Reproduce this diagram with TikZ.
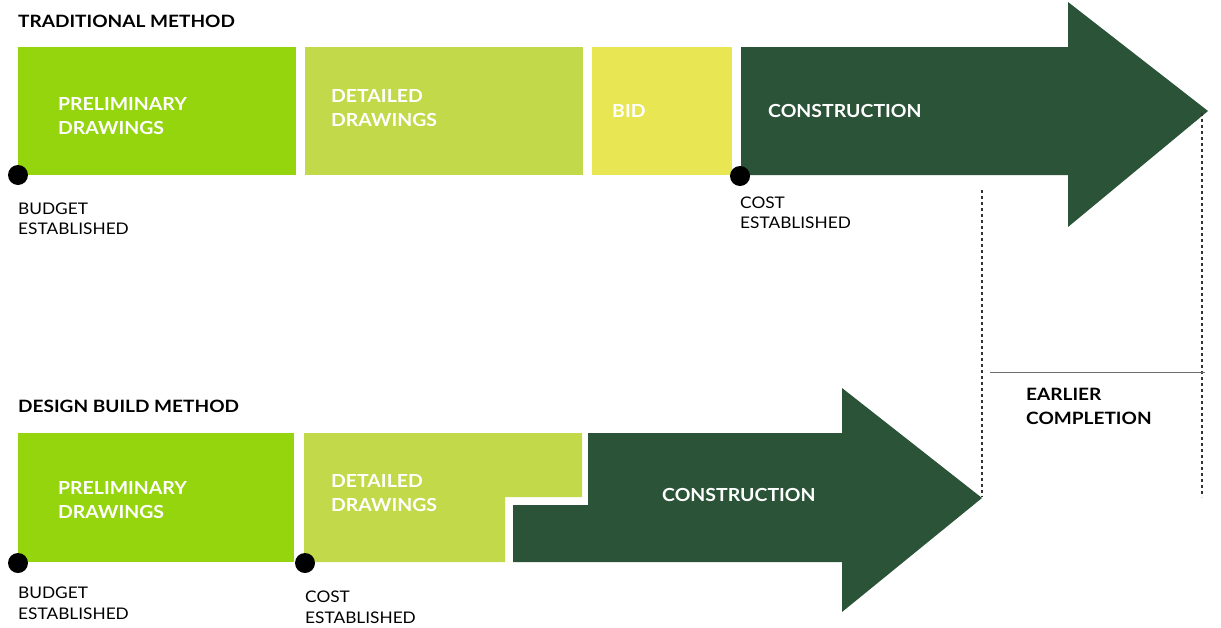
\documentclass[tikz,border=0pt]{standalone}
\usepackage{fontspec}
\setmainfont{Lato}[FakeStretch=1.08]
\newfontfamily\headfont{Lato}[FakeStretch=1.12]
\definecolor{prelim}{RGB}{149,213,14}
\definecolor{detail}{RGB}{194,218,74}
\definecolor{bidc}{RGB}{232,230,82}
\definecolor{constr}{RGB}{42,83,56}
\definecolor{guide}{RGB}{50,50,50}
\begin{document}
\begin{tikzpicture}[x=1pt,y=-1pt,
  heading/.style={anchor=base west,inner sep=0pt,font=\headfont\fontsize{17}{20}\selectfont\bfseries,text=black},
  inbox/.style={anchor=base west,inner sep=0pt,font=\fontsize{18}{22}\selectfont\bfseries,text=white},
  note/.style={anchor=base west,inner sep=0pt,font=\fontsize{16}{19}\selectfont,text=black},
  milestone/.style={circle,fill=black,inner sep=0pt,minimum size=20pt},
  guideline/.style={guide,line width=1.2pt,dash pattern=on 3pt off 3pt},
  sepline/.style={guide!70,line width=0.8pt}]
\useasboundingbox (0,0) rectangle (1221,627);
% ---------- Traditional ----------
\node[heading] (th) at (18,27) {TRADITIONAL METHOD};
\fill[prelim] (18,47) rectangle (296,175);
\fill[detail] (305,47) rectangle (583,175);
\fill[bidc] (592,47) rectangle (732,175);
\fill[constr] (741,47) -- (1068,47) -- (1068,2) -- (1208,111) -- (1068,227) -- (1068,175) -- (741,175) -- cycle;
\node[inbox] (tp1) at (58,110) {PRELIMINARY};
\node[inbox] (tp2) at (58,134) {DRAWINGS};
\node[inbox] (td1) at (331,102) {DETAILED};
\node[inbox] (td2) at (331,126) {DRAWINGS};
\node[inbox] (tb) at (612,117) {BID};
\node[inbox] (tc) at (768,117) {CONSTRUCTION};
\node[milestone] (tm1) at (18,175) {};
\node[milestone] (tm2) at (740,176) {};
\node[note] (tbu1) at (18,214) {BUDGET};
\node[note] (tbu2) at (18,234) {ESTABLISHED};
\node[note] (tco1) at (740,208) {COST};
\node[note] (tco2) at (740,228) {ESTABLISHED};
% ---------- Design build ----------
\node[heading] (bh) at (18,412) {DESIGN BUILD METHOD};
\fill[prelim] (18,433) rectangle (294,562);
\fill[detail] (304,433) -- (582,433) -- (582,497) -- (505,497) -- (505,562) -- (304,562) -- cycle;
\fill[constr] (588,433) -- (842,433) -- (842,388) -- (982,498) -- (842,612) -- (842,562) -- (513,562) -- (513,505) -- (588,505) -- cycle;
\node[inbox] (bp1) at (58,494) {PRELIMINARY};
\node[inbox] (bp2) at (58,518) {DRAWINGS};
\node[inbox] (bd1) at (331,487) {DETAILED};
\node[inbox] (bd2) at (331,511) {DRAWINGS};
\node[inbox] (bc) at (662,501) {CONSTRUCTION};
\node[milestone] (bm1) at (18,563) {};
\node[milestone] (bm2) at (305,563) {};
\node[note] (bbu1) at (18,598) {BUDGET};
\node[note] (bbu2) at (18,619) {ESTABLISHED};
\node[note] (bco1) at (305,602) {COST};
\node[note] (bco2) at (305,623) {ESTABLISHED};
% ---------- Earlier completion ----------
\coordinate (g1a) at (982,190);
\coordinate (g1b) at (982,497);
\coordinate (g2a) at (1202,113);
\coordinate (g2b) at (1202,497);
\draw[guideline] (g1a) -- (g1b);
\draw[guideline] (g2a) -- (g2b);
\coordinate (sa) at (990,372);
\coordinate (sb) at (1205,372);
\draw[sepline] (sa) -- (sb);
\node[heading] (ec1) at (1026,400) {EARLIER};
\node[heading] (ec2) at (1026,424) {COMPLETION};
\end{tikzpicture}
\end{document}
